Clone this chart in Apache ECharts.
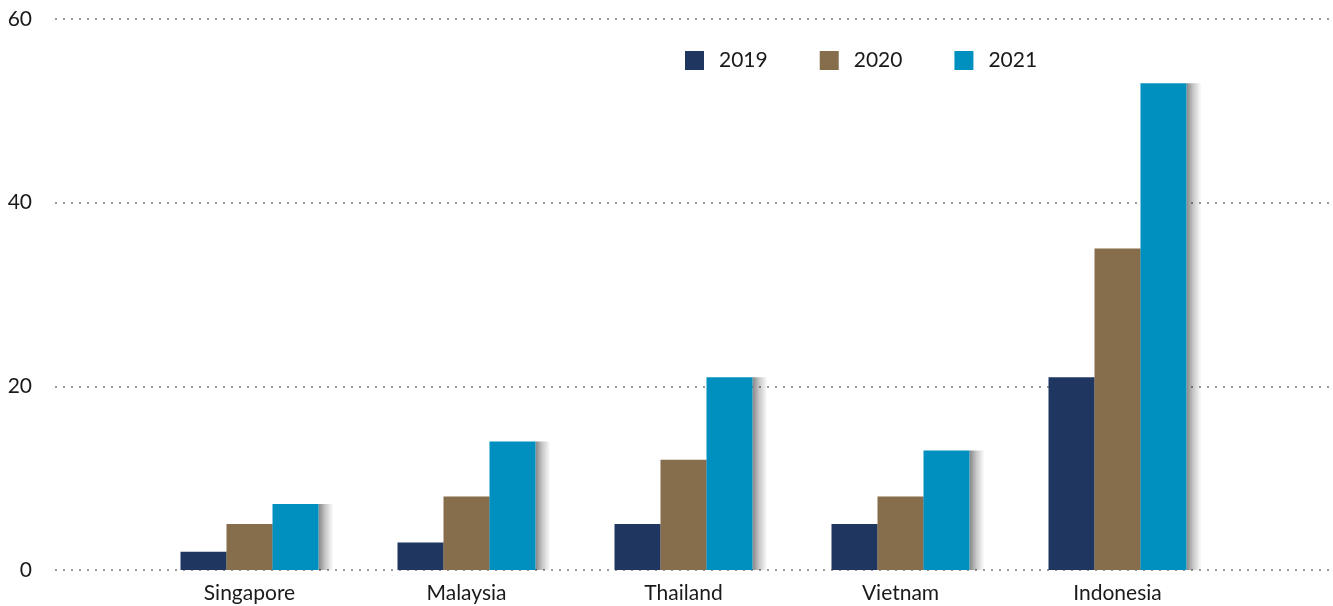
<!DOCTYPE html>
<html>
<head>
<meta charset="utf-8">
<script src="https://cdn.jsdelivr.net/npm/echarts@6/dist/echarts.min.js"></script>
<style>
  html, body { margin: 0; padding: 0; background: #fff; }
  #chart { width: 1333px; height: 606px; }
</style>
</head>
<body>
<div id="chart"></div>
<script>
const countries = ['Singapore', 'Malaysia', 'Thailand', 'Vietnam', 'Indonesia']
const years = ['2019', '2020', '2021']
const values2019 = [2, 3, 5, 5, 21]
const values2020 = [5, 8, 12, 8, 35]
const values2021 = [7.2, 14, 21, 13, 53]
const yTicks = [0, 20, 40, 60]

const COLORS = ['#1e3660', '#866d4b', '#0090bf']
const FONT = 'Lato, "Open Sans", sans-serif'
const BAR_W = 46
const SHADOW_W = 15

const chart = echarts.init(document.getElementById('chart'), null, { renderer: 'canvas' })

// shadow strips to the right of each bar: [category, value, year index]
const shadowData = []
;[values2019, values2020, values2021].forEach((vals, yi) => {
  vals.forEach((v, ci) => shadowData.push([ci, v, yi]))
})

function renderShadow(params, api) {
  const ci = api.value(0)
  const v = api.value(1)
  const yi = api.value(2)
  const top = api.coord([ci, v])
  const base = api.coord([ci, 0])
  const x = top[0] + (yi - 1) * BAR_W + BAR_W / 2
  return {
    type: 'rect',
    shape: { x, y: top[1], width: SHADOW_W, height: base[1] - top[1] },
    style: {
      fill: new echarts.graphic.LinearGradient(0, 0, 1, 0, [
        { offset: 0, color: 'rgba(0,0,0,0.48)' },
        { offset: 0.45, color: 'rgba(0,0,0,0.22)' },
        { offset: 1, color: 'rgba(0,0,0,0)' }
      ])
    }
  }
}

function barSeries(name, data, color) {
  return {
    name,
    type: 'bar',
    xAxisIndex: 1,
    yAxisIndex: 1,
    data,
    barWidth: BAR_W,
    barGap: '0%',
    z: 3,
    itemStyle: { color }
  }
}

chart.setOption({
  backgroundColor: '#fff',
  animation: false,
  legend: {
    data: years,
    left: 685,
    top: 50,
    padding: 0,
    itemWidth: 19,
    itemHeight: 19,
    itemGap: 52,
    icon: 'rect',
    textStyle: { color: '#1a1a1a', fontSize: 21, fontFamily: FONT, padding: [0, 0, 0, 10] }
  },
  grid: [
    { left: 55, right: 3, top: 19, bottom: 36 },
    { left: 141, right: 107, top: 19, bottom: 36 }
  ],
  xAxis: [
    { gridIndex: 0, type: 'category', data: [], show: false },
    {
      gridIndex: 1,
      type: 'category',
      data: countries,
      axisLine: { show: false },
      axisTick: { show: false },
      axisLabel: { color: '#1a1a1a', fontSize: 21, fontFamily: FONT, margin: 13 }
    }
  ],
  yAxis: [
    {
      gridIndex: 0,
      type: 'value',
      min: yTicks[0],
      max: yTicks[yTicks.length - 1],
      interval: 20,
      axisLine: { show: false },
      axisTick: { show: false },
      axisLabel: { color: '#1a1a1a', fontSize: 21, fontFamily: FONT, margin: 23 },
      splitLine: { lineStyle: { color: '#9a9a9a', type: [2, 6], width: 2 } }
    },
    {
      gridIndex: 1,
      type: 'value',
      min: yTicks[0],
      max: yTicks[yTicks.length - 1],
      interval: 20,
      show: false,
      splitLine: { show: false }
    }
  ],
  series: [
    {
      type: 'custom',
      xAxisIndex: 1,
      yAxisIndex: 1,
      data: shadowData,
      renderItem: renderShadow,
      silent: true,
      z: 2
    },
    barSeries(years[0], values2019, COLORS[0]),
    barSeries(years[1], values2020, COLORS[1]),
    barSeries(years[2], values2021, COLORS[2])
  ]
})
</script>
</body>
</html>
